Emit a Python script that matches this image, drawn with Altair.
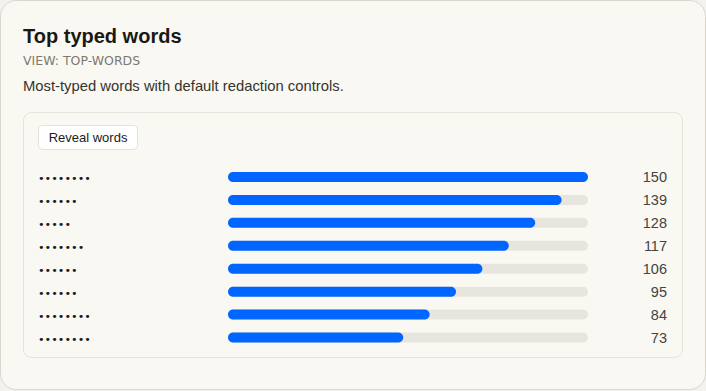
import altair as alt
import pandas as pd

# ---- data ----
ranks = [1, 2, 3, 4, 5, 6, 7, 8]
words = ["••••••••", "••••••", "•••••", "•••••••", "••••••", "••••••", "••••••••", "••••••••"]
counts = [150, 139, 128, 117, 106, 95, 84, 73]

title_text = "Top typed words"
view_text = "VIEW: TOP-WORDS"
desc_text = "Most-typed words with default redaction controls."
button_text = "Reveal words"

full = max(counts)
df = pd.DataFrame({"rank": ranks, "word": words, "count": counts, "full": [full] * len(ranks)})

FONT = "Liberation Sans"
W, H = 706, 391

xscale = alt.Scale(domain=[0, full], range=[228, 588], nice=False, zero=True)
yscale = alt.Scale(type="point", domain=ranks, range=[177, 337.5], padding=0)

one = pd.DataFrame({"k": [0]})
base1 = alt.Chart(one)

card = base1.mark_rect(fill="#faf8f2", stroke="#d9d6ce", strokeWidth=1, cornerRadius=16).encode(
    x=alt.value(0.5), x2=alt.value(705.5), y=alt.value(0.5), y2=alt.value(389.5)
)
panel = base1.mark_rect(fill="#faf8f2", stroke="#e7e3da", strokeWidth=1, cornerRadius=8).encode(
    x=alt.value(23.5), x2=alt.value(682.5), y=alt.value(112.5), y2=alt.value(357.5)
)
button = base1.mark_rect(fill="#ffffff", stroke="#e6e2d9", strokeWidth=1, cornerRadius=4).encode(
    x=alt.value(38.5), x2=alt.value(137.5), y=alt.value(125.5), y2=alt.value(149.5)
)
button_label = base1.mark_text(text=button_text, font=FONT, fontSize=13, color="#1c1b18",
                               align="center", baseline="middle").encode(
    x=alt.value(88), y=alt.value(138)
)
title = base1.mark_text(text=title_text, font=FONT, fontSize=20, fontWeight="bold", color="#1a1814",
                        align="left", baseline="alphabetic").encode(
    x=alt.value(23), y=alt.value(43)
)
view_lbl = base1.mark_text(text=view_text, font="DejaVu Sans", fontSize=12.5, color="#7d796f",
                           align="left", baseline="alphabetic").encode(
    x=alt.value(23), y=alt.value(65)
)
desc = base1.mark_text(text=desc_text, font=FONT, fontSize=14.8, color="#35332e",
                       align="left", baseline="alphabetic").encode(
    x=alt.value(23), y=alt.value(91)
)

base = alt.Chart(df)
track = base.mark_bar(color="#e8e5de", cornerRadius=5, size=10).encode(
    x=alt.X("full:Q", scale=xscale, axis=None),
    x2=alt.datum(0),
    y=alt.Y("rank:O", scale=yscale, axis=None),
)
bars = base.mark_bar(color="#0066ff", cornerRadius=5, size=10).encode(
    x=alt.X("count:Q", scale=xscale, axis=None),
    x2=alt.datum(0),
    y=alt.Y("rank:O", scale=yscale, axis=None),
)
labels = base.mark_text(font="DejaVu Sans Mono", fontSize=11, color="#1c1b18", align="left",
                        baseline="middle", dy=2).encode(
    x=alt.value(38),
    y=alt.Y("rank:O", scale=yscale, axis=None),
    text="word:N",
)
values = base.mark_text(font=FONT, fontSize=14.5, color="#45433f", align="right", baseline="middle",
                        dy=1).encode(
    x=alt.value(667),
    y=alt.Y("rank:O", scale=yscale, axis=None),
    text="count:Q",
)

chart = alt.layer(
    card, panel, button, button_label, title, view_lbl, desc, track, bars, labels, values
).properties(
    width=W, height=H, padding=0, autosize=alt.AutoSizeParams(type="none"),
    background="#f3f2ee",
).configure_view(stroke=None)

chart.save("out.html", embed_options={"renderer": "svg", "actions": False})
